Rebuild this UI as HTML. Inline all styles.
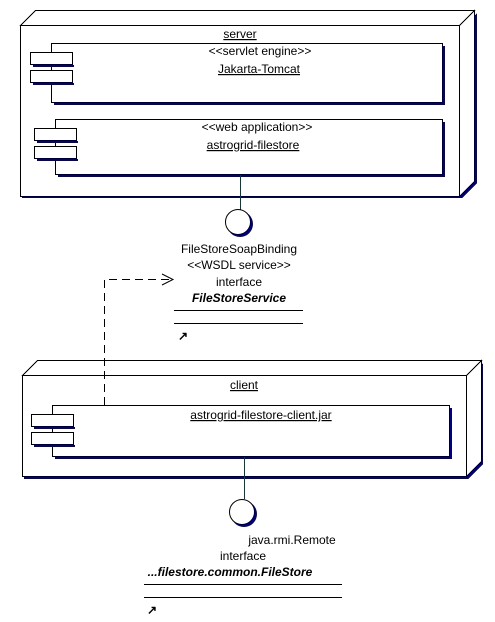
<!DOCTYPE html>
<html><head><style>body{margin:0;background:#fff}svg{display:block}text{font-family:"Liberation Sans",Arial,sans-serif;font-size:12px;fill:#000}</style></head><body>
<svg width="495" height="622" viewBox="0 0 495 622" xmlns="http://www.w3.org/2000/svg">
<g stroke="#000" stroke-width="1" fill="#fff" shape-rendering="crispEdges">
<polygon points="22,198 462,198 477,183 477,13 462,28 462,198" fill="#000080" stroke="none"/>
<rect x="22" y="28" width="440" height="170" fill="#000080" stroke="none"/>
<polygon points="20.5,25.5 35.5,10.5 474.5,10.5 459.5,25.5"/>
<polygon points="459.5,25.5 474.5,10.5 474.5,181.5 459.5,196.5"/>
<rect x="20.5" y="25.5" width="439" height="171"/>
<rect x="54" y="46" width="391" height="59" fill="#000080" stroke="none"/>
<rect x="51.5" y="43.5" width="391" height="59"/>
<rect x="33" y="65" width="41" height="2" fill="#000080" stroke="none"/>
<rect x="33" y="83" width="41" height="2" fill="#000080" stroke="none"/>
<rect x="30.5" y="52.5" width="42" height="12"/>
<rect x="30.5" y="70.5" width="42" height="12"/>
<rect x="58" y="122" width="387" height="55" fill="#000080" stroke="none"/>
<rect x="55.5" y="119.5" width="387" height="55"/>
<rect x="37" y="141" width="41" height="2" fill="#000080" stroke="none"/>
<rect x="37" y="159" width="41" height="2" fill="#000080" stroke="none"/>
<rect x="34.5" y="128.5" width="42" height="12"/>
<rect x="34.5" y="146.5" width="42" height="12"/>
<rect x="24" y="378" width="444" height="101" fill="#000080" stroke="none"/>
<polygon points="468,479 483,464 483,363 468,378" fill="#000080" stroke="none"/>
<polygon points="22.5,375.5 37.5,360.5 481.5,360.5 466.5,375.5"/>
<polygon points="466.5,375.5 481.5,360.5 481.5,461.5 466.5,476.5"/>
<rect x="22.5" y="375.5" width="444" height="101"/>
<rect x="55" y="408" width="397" height="51" fill="#000080" stroke="none"/>
<rect x="52.5" y="405.5" width="397" height="51"/>
<rect x="34" y="427" width="41" height="2" fill="#000080" stroke="none"/>
<rect x="34" y="445" width="41" height="2" fill="#000080" stroke="none"/>
<rect x="31.5" y="414.5" width="42" height="12"/>
<rect x="31.5" y="432.5" width="42" height="12"/>
</g>
<line x1="240.5" y1="175" x2="240.5" y2="210" stroke="#004040"/>
<line x1="244.5" y1="457" x2="244.5" y2="499" stroke="#004040"/>
<circle cx="240" cy="224" r="13" fill="#000080"/>
<circle cx="238" cy="222" r="12.5" fill="#fff" stroke="#000"/>
<circle cx="244" cy="514" r="13" fill="#000080"/>
<circle cx="242" cy="512" r="12.5" fill="#fff" stroke="#000"/>
<path d="M104.5,405 V279.5 H170" fill="none" stroke="#000" stroke-dasharray="8,5" shape-rendering="crispEdges"/>
<path d="M162,274 L173,279.5 L162,285" fill="none" stroke="#000"/>
<g stroke="#000" shape-rendering="crispEdges">
<line x1="174" y1="310.5" x2="303" y2="310.5"/><line x1="174" y1="323.5" x2="303" y2="323.5"/>
<line x1="144" y1="584.5" x2="342" y2="584.5"/><line x1="144" y1="597.5" x2="342" y2="597.5"/>
</g>
<g text-anchor="middle">
<text x="240" y="38" text-decoration="underline">server</text>
<text x="260" y="55">&lt;&lt;servlet engine&gt;&gt;</text>
<text x="259" y="73" text-decoration="underline">Jakarta-Tomcat</text>
<text x="257" y="131">&lt;&lt;web application&gt;&gt;</text>
<text x="253" y="149" text-decoration="underline">astrogrid-filestore</text>
<text x="239" y="253">FileStoreSoapBinding</text>
<text x="239" y="269">&lt;&lt;WSDL service&gt;&gt;</text>
<text x="239" y="286">interface</text>
<text x="239" y="302" font-weight="bold" font-style="italic">FileStoreService</text>
<text x="244" y="389" text-decoration="underline">client</text>
<text x="261" y="419" text-decoration="underline">astrogrid-filestore-client.jar</text>
<text x="292" y="544">java.rmi.Remote</text>
<text x="243" y="560">interface</text>
<text x="230" y="576" font-weight="bold" font-style="italic">...filestore.common.FileStore</text>
</g>
<text x="178" y="340" font-size="9" font-weight="bold">↗</text>
<text x="147" y="614" font-size="9" font-weight="bold">↗</text>
</svg>
</body></html>
